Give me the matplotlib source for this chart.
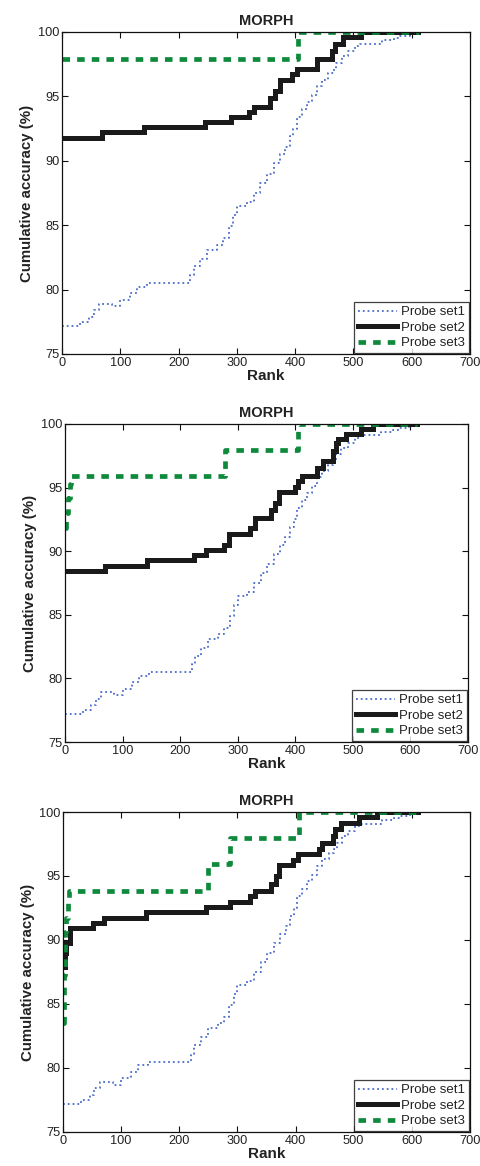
import matplotlib
matplotlib.use("Agg")
import matplotlib.pyplot as plt

plt.rcParams["font.family"] = ["Liberation Sans", "DejaVu Sans"]

# ---------------- dados ---------------- #
# Probe set1 é igual nos três painéis
set1_rank = [0, 31, 46, 54, 63, 86, 100, 117, 129, 146, 220, 226, 237, 249, 266,
             277, 286, 294, 300, 317, 329, 340, 351, 363, 374, 383, 391, 397, 403,
             411, 420, 429, 437, 446, 457, 466, 471, 480, 491, 503, 511, 549, 569,
             580, 597, 611]
set1_acc = [77.2, 77.5, 77.9, 78.4, 78.9, 78.7, 79.2, 79.7, 80.2, 80.5, 81.1, 81.8,
            82.4, 83.1, 83.5, 84.0, 84.9, 85.8, 86.5, 86.8, 87.5, 88.3, 89.0, 89.8,
            90.5, 91.1, 91.9, 92.5, 93.4, 94.0, 94.6, 95.1, 95.8, 96.3, 96.8, 97.1,
            97.6, 98.1, 98.5, 98.9, 99.1, 99.4, 99.5, 99.7, 99.9, 100.0]

# painel 1
p1_set2_rank = [0, 69, 140, 246, 290, 320, 330, 357, 365, 374, 394, 403, 437, 463,
                469, 483, 513, 611]
p1_set2_acc = [91.8, 92.2, 92.6, 93.0, 93.4, 93.8, 94.2, 94.9, 95.4, 96.3, 96.7,
               97.1, 97.9, 98.5, 99.1, 99.6, 100.0, 100.0]
p1_set3_rank = [0, 405, 612]
p1_set3_acc = [97.9, 100.0, 100.0]

# painel 2
p2_set2_rank = [0, 69, 143, 225, 245, 277, 285, 321, 330, 358, 365, 372, 399, 405,
                412, 438, 448, 465, 470, 475, 488, 515, 535, 611]
p2_set2_acc = [88.45, 88.85, 89.3, 89.7, 90.1, 90.5, 91.35, 91.8, 92.6, 93.2, 93.8,
               94.65, 95.05, 95.5, 95.9, 96.5, 97.1, 97.9, 98.5, 98.8, 99.2, 99.6,
               100.0, 100.0]
p2_set3_rank = [0, 2, 5, 8, 11, 278, 405, 612]
p2_set3_acc = [91.8, 93.0, 94.2, 95.3, 95.9, 97.95, 100.0, 100.0]

# painel 3
p3_set2_rank = [0, 3, 6, 12, 52, 70, 143, 246, 288, 322, 330, 357, 366, 372, 395,
                405, 440, 445, 465, 468, 478, 510, 540, 611]
p3_set2_acc = [87.9, 89.0, 89.8, 90.95, 91.35, 91.75, 92.15, 92.55, 93.0, 93.4,
               93.85, 94.4, 95.0, 95.85, 96.25, 96.7, 97.1, 97.55, 98.1, 98.7, 99.15,
               99.6, 100.0, 100.0]
p3_set3_rank = [0, 1, 2, 3, 4, 6, 8, 10, 250, 288, 406, 612]
p3_set3_acc = [83.5, 84.9, 87.3, 88.5, 90.6, 91.7, 92.9, 93.8, 95.9, 97.95, 100.0,
               100.0]

panels = [
    (p1_set2_rank, p1_set2_acc, p1_set3_rank, p1_set3_acc),
    (p2_set2_rank, p2_set2_acc, p2_set3_rank, p2_set3_acc),
    (p3_set2_rank, p3_set2_acc, p3_set3_rank, p3_set3_acc),
]

# posições dos eixos [left, bottom, width, height]
positions = [
    [0.129, 0.6964, 0.848, 0.2762],
    [0.135, 0.3636, 0.838, 0.2728],
    [0.131, 0.0292, 0.846, 0.2744],
]

TEXT = "#222222"

fig = plt.figure(figsize=(4.81, 11.66), dpi=100)

for pos, (r2, a2, r3, a3) in zip(positions, panels):
    ax = fig.add_axes(pos)
    ax.plot(set1_rank, set1_acc, drawstyle="steps-post", linestyle=":",
            color="#4a6cc8", lw=1.3, label="Probe set1")
    ax.plot(r2, a2, drawstyle="steps-post", color="#1a1a1a", lw=3.6,
            solid_joinstyle="miter", label="Probe set2")
    ax.plot(r3, a3, drawstyle="steps-post", color="#0f8a3c", lw=3.4,
            dashes=(1.6, 1.5), label="Probe set3")

    ax.set_xlim(0, 700)
    ax.set_ylim(75, 100)
    ax.set_xticks(range(0, 701, 100))
    ax.set_yticks(range(75, 101, 5))
    ax.tick_params(direction="in", top=True, right=True, length=4,
                   labelsize=9.2, colors="#111111", labelcolor=TEXT, pad=2)
    for s in ax.spines.values():
        s.set_linewidth(0.9)
        s.set_color("#111111")

    ax.set_title("MORPH", fontsize=10.5, fontweight="bold", color=TEXT, pad=5)
    ax.set_xlabel("Rank", fontsize=11, fontweight="bold", color=TEXT, labelpad=0)
    ax.set_ylabel("Cumulative accuracy (%)", fontsize=10.8, fontweight="bold",
                  color=TEXT, labelpad=3)

    leg = ax.legend(loc="lower right", fontsize=9.5, frameon=True, fancybox=False,
                    borderaxespad=0.05, handlelength=3.0, handletextpad=0.3,
                    labelspacing=0.25, borderpad=0.3)
    leg.get_frame().set_edgecolor("#111111")
    leg.get_frame().set_linewidth(0.9)
    for t in leg.get_texts():
        t.set_color(TEXT)

fig.savefig("out.png", dpi=100)
